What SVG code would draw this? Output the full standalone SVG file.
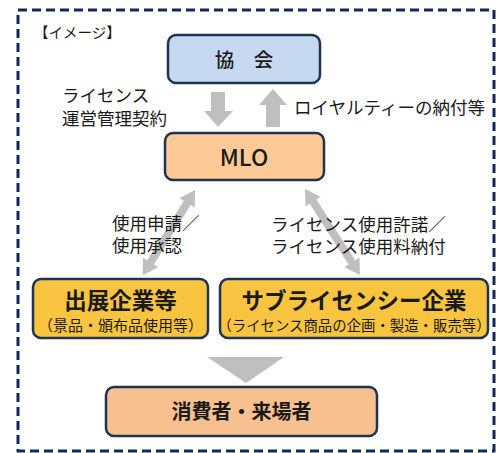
<svg xmlns="http://www.w3.org/2000/svg" width="500" height="453" viewBox="0 0 500 453">
<style>
text{font-family:"Noto Sans CJK JP","Noto Sans",sans-serif;fill:#1a1a1a}
.box{stroke:#1f3453;stroke-width:2.5}
.lbl{font-size:17.5px}
.ttl{font-size:22.5px;font-weight:bold;text-anchor:middle}
.sub{text-anchor:middle}
.arr{fill:#bfbfbf}
</style>
<rect x="18" y="10" width="476" height="441" fill="none" stroke="#0e2a5c" stroke-width="3" stroke-dasharray="9,5"/>
<text x="34" y="38" style="font-size:14.5px">【イメージ】</text>
<g id="kyokai">
<rect class="box" x="168" y="35" width="152" height="48" rx="8" fill="#c7d9f0"/>
<text x="244" y="67" style="font-size:19.5px;font-weight:500;text-anchor:middle">協　会</text>
</g>
<g id="mlo">
<rect class="box" x="165" y="133" width="159" height="47" rx="8" fill="#fdca97"/>
<text x="244" y="166" style="font-size:23px;font-weight:500;text-anchor:middle">MLO</text>
</g>
<g id="shutten">
<rect class="box" x="33" y="279" width="175" height="59" rx="8" fill="#f9c540"/>
<text class="ttl" x="120.5" y="309">出展企業等</text>
<text class="sub" x="120.5" y="331" style="font-size:15px">（景品・頒布品使用等）</text>
</g>
<g id="sublicensee">
<rect class="box" x="220" y="279" width="268" height="59" rx="8" fill="#f9c540"/>
<text class="ttl" x="354" y="309">サブライセンシー企業</text>
<text class="sub" x="354" y="331" style="font-size:14.4px">（ライセンス商品の企画・製造・販売等）</text>
</g>
<g id="consumer">
<rect class="box" x="106" y="387" width="271" height="49" rx="8" fill="#f8c08f"/>
<text x="241.5" y="419" style="font-size:20px;font-weight:bold;text-anchor:middle">消費者・来場者</text>
</g>
<g id="connectors">
<polygon class="arr" points="211,92 225,92 225,111 233,111 218,127 204,111 211,111"/>
<polygon class="arr" points="273,89 287,105 280,105 280,127 266,127 266,105 259,105"/>
<path class="arr" transform="translate(195,190) rotate(121.5)" d="M0,0 L15,-9 L15,-4 L85,-4 L85,-9 L100,0 L85,9 L85,4 L15,4 L15,9 Z"/>
<path class="arr" transform="translate(305,189) rotate(57.4)" d="M0,0 L15,-9 L15,-4 L87,-4 L87,-9 L102,0 L87,9 L87,4 L15,4 L15,9 Z"/>
<polygon class="arr" points="207,357 284,357 246,383"/>
</g>
<g id="labels">
<text class="lbl" x="62" y="102">ライセンス</text>
<text class="lbl" x="62" y="125">運営管理契約</text>
<text class="lbl" x="294" y="114">ロイヤルティーの納付等</text>
<text class="lbl" x="112" y="230">使用申請／</text>
<text class="lbl" x="112" y="252">使用承認</text>
<text class="lbl" x="271" y="231">ライセンス使用許諾／</text>
<text class="lbl" x="271" y="253">ライセンス使用料納付</text>
</g>
</svg>
